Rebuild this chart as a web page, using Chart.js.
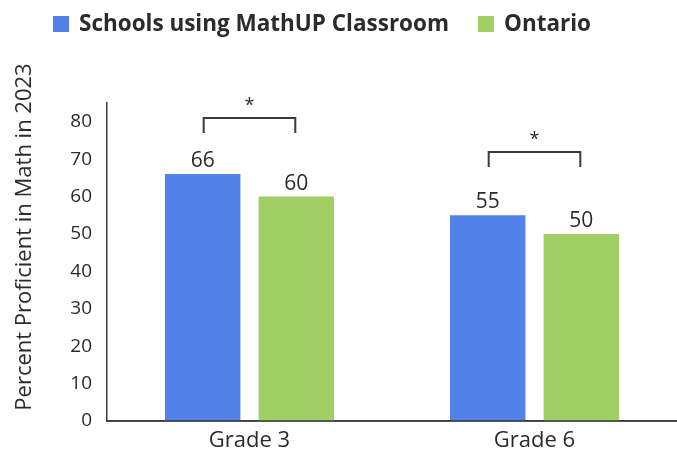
<!DOCTYPE html>
<html>
<head>
<meta charset="utf-8">
<script src="https://cdn.jsdelivr.net/npm/chart.js@4.4.1/dist/chart.umd.min.js"></script>
<style>
  html, body { margin: 0; padding: 0; background: #ffffff; }
  #wrap { width: 677px; height: 452px; position: relative; }
</style>
</head>
<body>
<div id="wrap"><canvas id="c" width="677" height="452"></canvas></div>
<script>
const categories = ["Grade 3", "Grade 6"];
const seriesNames = ["Schools using MathUP Classroom", "Ontario"];
const mathupValues = [66, 55];
const ontarioValues = [60, 50];
const significant = [true, true];
const bracketLevels = [81, 72];
const yTicks = [0, 10, 20, 30, 40, 50, 60, 70, 80];
const yTitle = "Percent Proficient in Math in 2023";

const BLUE = "#5282E8";
const GREEN = "#A1CF63";
const TEXT = "#2b2b2b";
const AXIS = "#3a3a3a";
const FONT = "'Open Sans', 'Noto Sans', sans-serif";

const overlay = {
  id: "overlay",
  afterDraw(chart) {
    const ctx = chart.ctx;
    const y = chart.scales.y;
    const area = chart.chartArea;
    ctx.save();

    // x-axis baseline runs to the canvas edge
    ctx.strokeStyle = AXIS;
    ctx.lineWidth = 1.5;
    ctx.beginPath();
    const y0 = y.getPixelForValue(0);
    ctx.moveTo(area.left, y0);
    ctx.lineTo(chart.width, y0);
    ctx.stroke();

    // value labels
    ctx.fillStyle = TEXT;
    ctx.font = "21px " + FONT;
    ctx.textAlign = "center";
    ctx.textBaseline = "alphabetic";
    chart.data.datasets.forEach((ds, di) => {
      const meta = chart.getDatasetMeta(di);
      meta.data.forEach((bar, i) => {
        ctx.fillText(String(ds.data[i]), bar.x, bar.y - 7);
      });
    });

    // significance brackets
    const m0 = chart.getDatasetMeta(0), m1 = chart.getDatasetMeta(1);
    significant.forEach((sig, i) => {
      if (!sig) return;
      const b0 = m0.data[i], b1 = m1.data[i];
      const top = Math.round(y.getPixelForValue(bracketLevels[i]));
      const arm = 15;
      ctx.strokeStyle = AXIS;
      ctx.lineWidth = 2;
      ctx.beginPath();
      ctx.moveTo(b0.x + 1, top + arm);
      ctx.lineTo(b0.x + 1, top);
      ctx.lineTo(b1.x - 1, top);
      ctx.lineTo(b1.x - 1, top + arm);
      ctx.stroke();
      ctx.fillStyle = TEXT;
      ctx.font = "18px " + FONT;
      ctx.textAlign = "center";
      ctx.textBaseline = "middle";
      ctx.fillText("*", (b0.x + b1.x) / 2, top - 12);
    });

    // y axis title
    ctx.save();
    ctx.translate(25, 237);
    ctx.rotate(-Math.PI / 2);
    ctx.fillStyle = TEXT;
    ctx.font = "22px " + FONT;
    ctx.textAlign = "center";
    ctx.textBaseline = "middle";
    ctx.fillText(yTitle, 0, 0);
    ctx.restore();

    // legend
    let x = 53;
    const colors = [BLUE, GREEN];
    const maxW = [370, 87];
    ctx.font = "bold 23px " + FONT;
    ctx.textAlign = "left";
    ctx.textBaseline = "alphabetic";
    seriesNames.forEach((name, i) => {
      ctx.fillStyle = colors[i];
      ctx.fillRect(x, 16, 16, 16);
      ctx.fillStyle = TEXT;
      const w = Math.min(ctx.measureText(name).width, maxW[i]);
      ctx.fillText(name, x + 26, 31, maxW[i]);
      x += 26 + w + 29;
    });
    ctx.restore();
  }
};

new Chart(document.getElementById("c"), {
  type: "bar",
  data: {
    labels: categories,
    datasets: [
      { label: seriesNames[0], data: mathupValues, backgroundColor: BLUE },
      { label: seriesNames[1], data: ontarioValues, backgroundColor: GREEN }
    ]
  },
  options: {
    responsive: false,
    animation: false,
    devicePixelRatio: 1,
    categoryPercentage: 0.657,
    barPercentage: 0.806,
    layout: { padding: { top: 103, right: 0, left: 0, bottom: 0 } },
    plugins: {
      legend: { display: false },
      tooltip: { enabled: false },
      title: { display: false }
    },
    scales: {
      x: {
        grid: { display: false, drawTicks: false },
        border: { display: true, color: AXIS, width: 1.5 },
        ticks: { color: TEXT, font: { family: FONT, size: 22 }, padding: 7 },
        afterFit(s) { s.height = 31; }
      },
      y: {
        min: 0,
        max: 85,
        grid: { display: false, drawTicks: false },
        border: { display: true, color: AXIS, width: 1.5 },
        afterBuildTicks(s) { s.ticks = yTicks.map(v => ({ value: v })); },
        ticks: { color: TEXT, font: { family: FONT, size: 19 }, padding: 15 },
        afterFit(s) { s.width = 107; }
      }
    }
  },
  plugins: [overlay]
});
</script>
</body>
</html>
